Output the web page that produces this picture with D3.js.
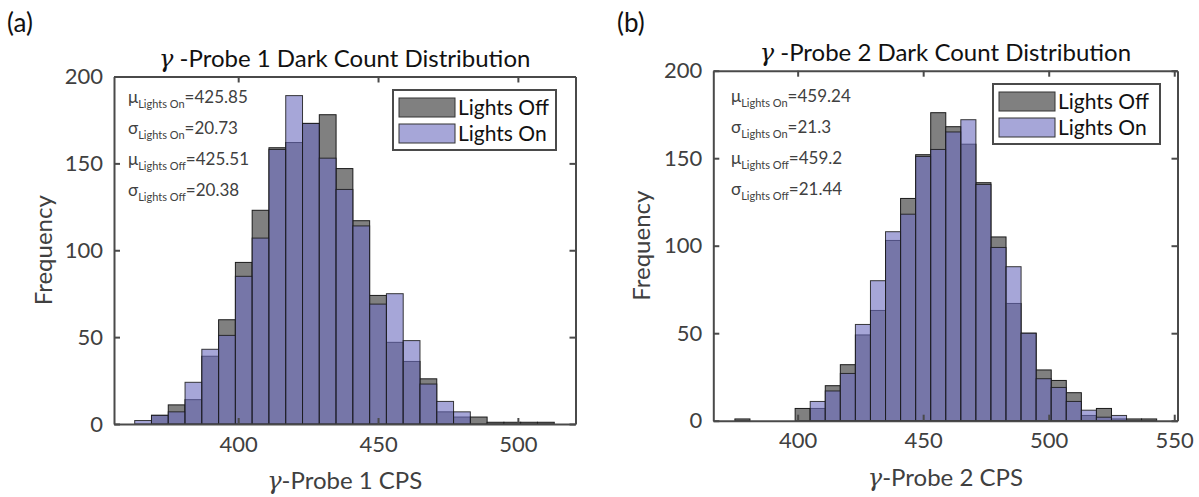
<!DOCTYPE html>
<html>
<head>
<meta charset="utf-8">
<script src="https://cdn.jsdelivr.net/npm/d3@7"></script>
<style>
  body { margin: 0; background: #fff; }
  svg text { font-family: Lato, "Open Sans", sans-serif; }
</style>
</head>
<body>
<svg id="chart" width="1199" height="497"></svg>
<script>
// ---------- DATA ----------
const binWidth = 6;
// Panel (a): gamma-Probe 1
const binStartA = 363;
const lightsOffA = [0, 5, 11, 14, 39, 60, 93, 123, 159, 162, 173, 178, 147, 117, 74, 47, 36, 26, 7, 4, 4, 1, 1, 1, 1];
const lightsOnA  = [2, 5, 7, 24, 43, 51, 85, 107, 158, 189, 173, 153, 135, 114, 69, 75, 48, 23, 13, 7, 0, 0, 0, 0, 0];
const xTicksA = [400, 450, 500];
const statsA = [
  ["μ", "Lights On", "=425.85"],
  ["σ", "Lights On", "=20.73"],
  ["μ", "Lights Off", "=425.51"],
  ["σ", "Lights Off", "=20.38"]
];
// Panel (b): gamma-Probe 2
const binStartB = 375;
const lightsOffB = [1, 0, 0, 0, 7, 7, 20, 32, 49, 63, 103, 127, 152, 176, 168, 158, 136, 105, 67, 50, 29, 23, 16, 3, 7, 1, 1, 1];
const lightsOnB  = [0, 0, 0, 0, 0, 11, 17, 27, 55, 80, 108, 118, 151, 155, 165, 172, 135, 99, 88, 50, 24, 19, 11, 6, 2, 3, 0, 0];
const xTicksB = [400, 450, 500, 550];
const statsB = [
  ["μ", "Lights On", "=459.24"],
  ["σ", "Lights On", "=21.3"],
  ["μ", "Lights Off", "=459.2"],
  ["σ", "Lights Off", "=21.44"]
];
const yTicks = [0, 50, 100, 150, 200];
const seriesNames = ["Lights Off", "Lights On"];

// ---------- STYLE ----------
const offFill = "#808080";
const onFill = "rgb(112,112,192)";
const onOpacity = 0.62;
const axisColor = "#4a4a4a";
const textColor = "#404040";

const svg = d3.select("#chart");

function drawPanel(cfg) {
  const g = svg.append("g");
  const x = d3.scaleLinear().domain(cfg.xDomain).range([cfg.left, cfg.right]);
  const y = d3.scaleLinear().domain([0, 200]).range([cfg.bottom, cfg.top]);

  const toBins = (arr) => arr.map((v, i) => ({ x0: cfg.binStart + i * binWidth, x1: cfg.binStart + (i + 1) * binWidth, v }));

  // Lights Off
  g.append("g").selectAll("rect").data(toBins(cfg.off)).join("rect")
    .attr("x", d => x(d.x0)).attr("width", d => x(d.x1) - x(d.x0))
    .attr("y", d => y(d.v)).attr("height", d => y(0) - y(d.v))
    .attr("fill", offFill).attr("stroke", "#1a1a1a").attr("stroke-width", 1);
  // Lights On
  g.append("g").selectAll("rect").data(toBins(cfg.on).filter(d => d.v > 0)).join("rect")
    .attr("x", d => x(d.x0)).attr("width", d => x(d.x1) - x(d.x0))
    .attr("y", d => y(d.v)).attr("height", d => y(0) - y(d.v))
    .attr("fill", onFill).attr("fill-opacity", onOpacity)
    .attr("stroke", "#1a1a1a").attr("stroke-opacity", 0.85).attr("stroke-width", 1);

  // Axes (box with inward ticks)
  const tickLen = 6;
  const bottomAxis = d3.axisBottom(x).tickValues(cfg.xTicks).tickSizeInner(-tickLen).tickSizeOuter(0).tickPadding(12);
  const topAxis = d3.axisTop(x).tickValues(cfg.xTicks).tickSizeInner(-tickLen).tickSizeOuter(0).tickFormat("");
  const leftAxis = d3.axisLeft(y).tickValues(yTicks).tickSizeInner(-tickLen).tickSizeOuter(0).tickPadding(11);
  const rightAxis = d3.axisRight(y).tickValues(yTicks).tickSizeInner(-tickLen).tickSizeOuter(0).tickFormat("");

  const styleAxis = (sel) => {
    sel.select(".domain").attr("stroke", axisColor).attr("stroke-width", 2);
    sel.selectAll(".tick line").attr("stroke", axisColor).attr("stroke-width", 2);
    sel.selectAll(".tick text").attr("fill", textColor).style("font-size", "22px").style("font-family", "Lato, 'Open Sans', sans-serif");
  };
  g.append("g").attr("transform", `translate(0,${cfg.bottom})`).call(bottomAxis).call(styleAxis);
  g.append("g").attr("transform", `translate(0,${cfg.top})`).call(topAxis).call(styleAxis);
  g.append("g").attr("transform", `translate(${cfg.left},0)`).call(leftAxis).call(styleAxis);
  g.append("g").attr("transform", `translate(${cfg.right},0)`).call(rightAxis).call(styleAxis);

  // Title
  const cx = (cfg.left + cfg.right) / 2;
  const title = g.append("text").attr("x", cx).attr("y", cfg.top - 10)
    .attr("text-anchor", "middle").attr("fill", "#111").style("font-size", "24px");
  title.append("tspan").text("γ").style("font-family", "'DejaVu Serif', serif").style("font-style", "italic");
  title.append("tspan").text(" -" + cfg.titleRest);

  // X label
  const xl = g.append("text").attr("x", cx).attr("y", cfg.bottom + 65)
    .attr("text-anchor", "middle").attr("fill", textColor).style("font-size", "24px");
  xl.append("tspan").text("γ").style("font-family", "'DejaVu Serif', serif").style("font-style", "italic");
  xl.append("tspan").text("-" + cfg.xLabelRest);

  // Y label
  g.append("text").attr("transform", `translate(${cfg.yLabelX},${(cfg.top + cfg.bottom) / 2}) rotate(-90)`)
    .attr("text-anchor", "middle").attr("fill", textColor).style("font-size", "24px").text("Frequency");

  // Stats
  cfg.stats.forEach((s, i) => {
    const t = g.append("text").attr("x", cfg.statsX).attr("y", cfg.statsY + i * 31)
      .attr("fill", textColor).style("font-size", "17px");
    t.append("tspan").text(s[0]);
    t.append("tspan").text(s[1]).style("font-size", "11px").attr("dy", 5);
    t.append("tspan").text(s[2]).attr("dy", -5);
  });

  // Legend
  const L = cfg.legend;
  g.append("rect").attr("x", L.x).attr("y", L.y).attr("width", L.w).attr("height", L.h)
    .attr("fill", "#fff").attr("stroke", axisColor).attr("stroke-width", 2);
  seriesNames.forEach((name, i) => {
    const yy = L.y + 8 + i * 26;
    g.append("rect").attr("x", L.x + 6).attr("y", yy).attr("width", 56).attr("height", 19)
      .attr("fill", i === 0 ? offFill : onFill).attr("fill-opacity", i === 0 ? 1 : onOpacity)
      .attr("stroke", "#333").attr("stroke-width", 1);
    g.append("text").attr("x", L.x + 65).attr("y", yy + 17).attr("fill", "#111")
      .style("font-size", "21px").text(name);
  });

  // Panel label
  svg.append("text").attr("x", cfg.panelX).attr("y", 32).attr("fill", "#111")
    .style("font-size", "26px").text(cfg.panelLabel);
}

drawPanel({
  left: 114, right: 575.5, top: 76.5, bottom: 424,
  xDomain: [355.6, 520.6], binStart: binStartA,
  off: lightsOffA, on: lightsOnA, xTicks: xTicksA, stats: statsA,
  titleRest: "Probe 1 Dark Count Distribution", xLabelRest: "Probe 1 CPS",
  yLabelX: 52, statsX: 128, statsY: 103,
  legend: { x: 393, y: 90, w: 163, h: 60 },
  panelX: 7, panelLabel: "(a)"
});
drawPanel({
  left: 713.3, right: 1177.5, top: 70.7, bottom: 420.7,
  xDomain: [366.4, 551.3], binStart: binStartB,
  off: lightsOffB, on: lightsOnB, xTicks: xTicksB, stats: statsB,
  titleRest: "Probe 2 Dark Count Distribution", xLabelRest: "Probe 2 CPS",
  yLabelX: 650, statsX: 731, statsY: 102,
  legend: { x: 993, y: 84, w: 167, h: 60 },
  panelX: 617, panelLabel: "(b)"
});
</script>
</body>
</html>
